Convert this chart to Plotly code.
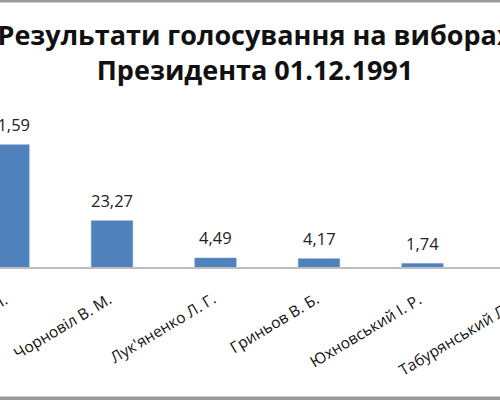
import plotly.graph_objects as go

candidates = ["Кравчук Л. М.", "Чорновіл В. М.", "Лук'яненко Л. Г.",
              "Гриньов В. Б.", "Юхновський І. Р.", "Табурянський Л. Л."]
votes = [61.59, 23.27, 4.49, 4.17, 1.74, 0.57]
title_text = "Результати голосування на виборах<br>Президента 01.12.1991"

FONT = "Open Sans"
W, H = 610, 400          # full chart; the 500x400 window shows its left part
plot_top, plot_bot = 100, 267
ph = plot_bot - plot_top

fig = go.Figure()
fig.add_trace(go.Bar(
    x=candidates, y=votes, width=0.4,
    marker=dict(color="#4f81bd", line=dict(color="#5b8fd0", width=0.5)),
    cliponaxis=True,
))

for c, v in zip(candidates, votes):
    fig.add_annotation(x=c, y=v, xref="x", yref="y",
                       text=f"{v:.2f}".replace(".", ","), showarrow=False,
                       xanchor="center", yanchor="bottom", yshift=7,
                       font=dict(family=FONT, size=16.5, color="#222222"))
    fig.add_annotation(x=c, y=0, xref="x", yref="y", text=c, showarrow=False,
                       textangle=-31, xanchor="right", yanchor="top",
                       xshift=6, yshift=-18,
                       font=dict(family=FONT, size=15.5, color="#111111"))

for p in (1.5, 397.5):
    fig.add_shape(type="line", xref="paper", yref="paper", x0=0, x1=1,
                  y0=1 - p / H, y1=1 - p / H, layer="above",
                  line=dict(color="#9a9a9a", width=2))

fig.update_layout(
    width=W, height=H,
    margin=dict(l=0, r=0, t=0, b=0),
    paper_bgcolor="white", plot_bgcolor="white",
    separators=", ",
    showlegend=False,
    title=dict(text=title_text, x=255 / W, xanchor="center", y=1 - 45 / H,
               yanchor="middle", xref="container", yref="container",
               font=dict(family=FONT, size=27, weight="bold", color="#111111")),
    xaxis=dict(type="category", range=[-0.0821, (W - 8.5) / 103.5],
               showticklabels=False, showline=True, linecolor="#bdbdbd",
               linewidth=1.5, showgrid=False, ticks=""),
    yaxis=dict(domain=[1 - plot_bot / H, 1 - plot_top / H],
               range=[0, ph / 1.985], visible=False, showgrid=False,
               zeroline=False),
)
frame_js = (
    "document.body.style.margin='0';"
    "document.body.style.overflow='hidden';"
    "document.documentElement.style.overflow='hidden';"
    "var fr=document.createElement('div');"
    "fr.style.cssText='position:fixed;left:0;top:0;width:100vw;height:100vh;"
    "box-sizing:border-box;border-top:2px solid #9a9a9a;"
    "border-bottom:2px solid #9a9a9a;pointer-events:none;z-index:10';"
    "document.body.appendChild(fr);"
)
fig.write_html("out.html", config={"displayModeBar": False}, post_script=frame_js)
